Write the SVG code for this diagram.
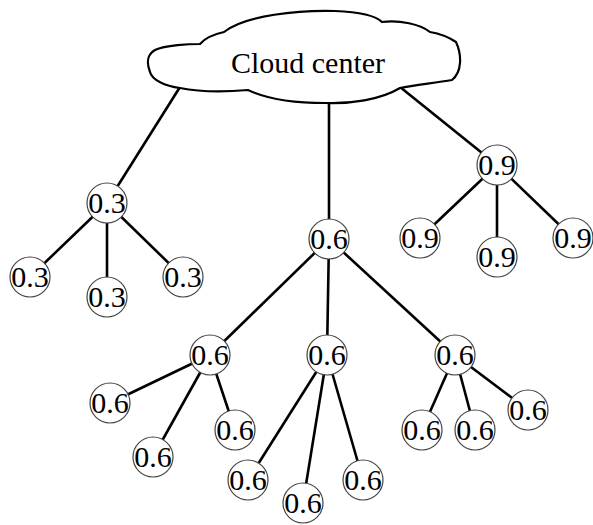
<svg xmlns="http://www.w3.org/2000/svg" width="593" height="525" viewBox="0 0 593 525">
<style>
.e{stroke:#000;stroke-width:2.6;fill:none}
.n circle{fill:#fff;stroke:#444;stroke-width:1.2}
text{font-family:"Liberation Serif","Times New Roman",serif;font-size:30px;fill:#000;text-anchor:middle}
</style>
<rect width="593" height="525" fill="#fff"/>
<g id="connectors">
<line class="e" x1="180" y1="87" x2="107" y2="203"/>
<line class="e" x1="329" y1="100" x2="329" y2="239"/>
<line class="e" x1="400" y1="87" x2="497" y2="165"/>
<line class="e" x1="107" y1="203" x2="30" y2="277"/>
<line class="e" x1="107" y1="203" x2="107" y2="297"/>
<line class="e" x1="107" y1="203" x2="183" y2="277"/>
<line class="e" x1="497" y1="165" x2="420" y2="238"/>
<line class="e" x1="497" y1="165" x2="497" y2="257"/>
<line class="e" x1="497" y1="165" x2="573" y2="238"/>
<line class="e" x1="329" y1="239" x2="210" y2="355"/>
<line class="e" x1="329" y1="239" x2="327" y2="355"/>
<line class="e" x1="329" y1="239" x2="455" y2="355"/>
<line class="e" x1="210" y1="355" x2="110" y2="403"/>
<line class="e" x1="210" y1="355" x2="153" y2="457"/>
<line class="e" x1="210" y1="355" x2="235" y2="430"/>
<line class="e" x1="327" y1="355" x2="248" y2="480"/>
<line class="e" x1="327" y1="355" x2="303" y2="503"/>
<line class="e" x1="327" y1="355" x2="363" y2="480"/>
<line class="e" x1="455" y1="355" x2="422" y2="430"/>
<line class="e" x1="455" y1="355" x2="475" y2="430"/>
<line class="e" x1="455" y1="355" x2="528" y2="410"/>
</g>
<g id="cloud">
<path d="M155,50 C165,45 190,44 200,44 C205,38 215,34 224,32 C245,15 300,10 335,11 C360,12 375,15 382,22 C400,20 420,24 430,32 C442,34 450,38 456,42 C462,55 462,72 452,80 C435,83 415,85 400,88 C380,100 350,104 325,103 C290,103 265,98 248,90 C225,92 200,92 180,88 C165,86 152,80 150,72 C146,62 148,54 155,50 Z" fill="#fff" stroke="#000" stroke-width="2.2"/>
<text x="308" y="73">Cloud center</text>
</g>
<g id="n03" class="n"><circle cx="107" cy="203" r="20"/><text x="107" y="213">0.3</text></g>
<g id="n03a" class="n"><circle cx="30" cy="277" r="20"/><text x="30" y="287">0.3</text></g>
<g id="n03b" class="n"><circle cx="107" cy="297" r="20"/><text x="107" y="307">0.3</text></g>
<g id="n03c" class="n"><circle cx="183" cy="277" r="20"/><text x="183" y="287">0.3</text></g>
<g id="n09" class="n"><circle cx="497" cy="165" r="20"/><text x="497" y="175">0.9</text></g>
<g id="n09a" class="n"><circle cx="420" cy="238" r="20"/><text x="420" y="248">0.9</text></g>
<g id="n09b" class="n"><circle cx="497" cy="257" r="20"/><text x="497" y="267">0.9</text></g>
<g id="n09c" class="n"><circle cx="573" cy="238" r="20"/><text x="573" y="248">0.9</text></g>
<g id="n06" class="n"><circle cx="329" cy="239" r="20"/><text x="329" y="249">0.6</text></g>
<g id="n06L" class="n"><circle cx="210" cy="355" r="20"/><text x="210" y="365">0.6</text></g>
<g id="n06M" class="n"><circle cx="327" cy="355" r="20"/><text x="327" y="365">0.6</text></g>
<g id="n06R" class="n"><circle cx="455" cy="355" r="20"/><text x="455" y="365">0.6</text></g>
<g id="n06La" class="n"><circle cx="110" cy="403" r="20"/><text x="110" y="413">0.6</text></g>
<g id="n06Lb" class="n"><circle cx="153" cy="457" r="20"/><text x="153" y="467">0.6</text></g>
<g id="n06Lc" class="n"><circle cx="235" cy="430" r="20"/><text x="235" y="440">0.6</text></g>
<g id="n06Ma" class="n"><circle cx="248" cy="480" r="20"/><text x="248" y="490">0.6</text></g>
<g id="n06Mb" class="n"><circle cx="303" cy="503" r="20"/><text x="303" y="513">0.6</text></g>
<g id="n06Mc" class="n"><circle cx="363" cy="480" r="20"/><text x="363" y="490">0.6</text></g>
<g id="n06Ra" class="n"><circle cx="422" cy="430" r="20"/><text x="422" y="440">0.6</text></g>
<g id="n06Rb" class="n"><circle cx="475" cy="430" r="20"/><text x="475" y="440">0.6</text></g>
<g id="n06Rc" class="n"><circle cx="528" cy="410" r="20"/><text x="528" y="420">0.6</text></g>
</svg>
